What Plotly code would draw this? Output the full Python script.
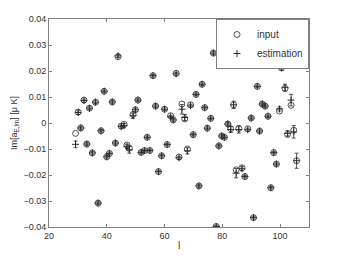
import plotly.graph_objects as go

l_vals = [29.2, 30.1, 31.0, 32.1, 33.1, 34.0, 35.0, 36.1, 37.0, 38.0, 39.1, 40.0, 40.9, 41.9,
          43.0, 43.9, 45.0, 46.0, 47.0, 47.8, 49.1, 49.9, 50.8, 51.9, 53.1, 54.0, 54.9, 56.0,
          56.9, 57.9, 59.0, 60.0, 60.9, 62.1, 63.0, 64.0, 65.0, 66.0, 67.0, 67.9, 69.0, 69.9,
          70.9, 71.9, 73.0, 73.9, 74.8, 76.0, 76.9, 77.9, 78.8, 79.8, 80.7, 81.9, 82.9, 83.9,
          84.8, 85.7, 86.8, 87.8, 88.8, 90.0, 90.8, 92.1, 92.9, 93.8, 94.8, 95.8, 96.8, 97.8,
          98.7, 99.8, 100.5, 101.7, 102.6, 103.8, 104.7, 105.7]

input_vals = [-0.0040, 0.0042, -0.0019, 0.0088, -0.0081, 0.0057, -0.0115, 0.0080, -0.0308, -0.0030,
              0.0122, -0.0130, -0.0117, 0.0081, -0.0077, 0.0255, -0.0012, -0.0005, -0.0085, -0.0097,
              0.0033, 0.0051, 0.0088, -0.0113, -0.0106, -0.0055, -0.0106, 0.0182, 0.0065, -0.0187,
              -0.0126, 0.0053, -0.0083, 0.0028, 0.0012, 0.0191, -0.0131, 0.0073, 0.0016, -0.0100,
              0.0070, -0.0045, 0.0110, -0.0242, 0.0149, 0.0059, -0.0020, 0.0018, 0.0269, -0.0398,
              -0.0088, -0.0050, -0.0055, -0.0004, -0.0022, 0.0070, -0.0180, -0.0021, -0.0172, -0.0206,
              -0.0022, 0.0019, -0.0364, 0.0141, -0.0031, 0.0073, 0.0065, 0.0026, -0.0249, -0.0114,
              -0.0158, 0.0046, 0.0212, 0.0133, -0.0044, 0.0068, -0.0028, -0.0145]

estimation_vals = [-0.0082, 0.0040, -0.0019, 0.0086, -0.0081, 0.0057, -0.0115, 0.0080, -0.0308, -0.0030,
                   0.0122, -0.0130, -0.0117, 0.0081, -0.0077, 0.0258, -0.0014, -0.0010, -0.0090, -0.0103,
                   0.0028, 0.0051, 0.0088, -0.0113, -0.0106, -0.0055, -0.0106, 0.0182, 0.0065, -0.0187,
                   -0.0126, 0.0053, -0.0083, 0.0024, 0.0012, 0.0189, -0.0134, 0.0053, 0.0021, -0.0107,
                   0.0066, -0.0045, 0.0110, -0.0242, 0.0149, 0.0059, -0.0020, 0.0018, 0.0269, -0.0398,
                   -0.0088, -0.0050, -0.0055, -0.0004, -0.0025, 0.0070, -0.0193, -0.0025, -0.0176, -0.0206,
                   -0.0026, 0.0019, -0.0364, 0.0141, -0.0031, 0.0073, 0.0065, 0.0026, -0.0249, -0.0114,
                   -0.0158, 0.0054, 0.0212, 0.0136, -0.0040, 0.0088, -0.0034, -0.0145]

error_vals = [0.0013, 0.0007, 0.0005, 0.0006, 0.0005, 0.0005, 0.0005, 0.0005, 0.0005, 0.0005,
              0.0005, 0.0005, 0.0005, 0.0005, 0.0005, 0.0006, 0.0006, 0.0008, 0.0008, 0.0013,
              0.0010, 0.0006, 0.0005, 0.0005, 0.0005, 0.0005, 0.0005, 0.0005, 0.0005, 0.0005,
              0.0005, 0.0005, 0.0005, 0.0005, 0.0005, 0.0006, 0.0006, 0.0018, 0.0012, 0.0012,
              0.0006, 0.0005, 0.0005, 0.0005, 0.0005, 0.0005, 0.0005, 0.0005, 0.0005, 0.0005,
              0.0005, 0.0005, 0.0005, 0.0006, 0.0011, 0.0014, 0.0018, 0.0014, 0.0008, 0.0005,
              0.0006, 0.0005, 0.0005, 0.0005, 0.0005, 0.0005, 0.0005, 0.0005, 0.0005, 0.0005,
              0.0005, 0.0008, 0.0008, 0.0013, 0.0010, 0.0022, 0.0024, 0.0029]

x_ticks = [20, 40, 60, 80, 100]
y_ticks = [-0.04, -0.03, -0.02, -0.01, 0, 0.01, 0.02, 0.03, 0.04]

ink = "#2a2a2a"
axis_col = "#808080"
text_col = "#333333"

fig = go.Figure()
fig.add_trace(go.Scatter(
    x=l_vals, y=input_vals, mode="markers", name="input",
    marker=dict(symbol="circle-open", size=6, color=ink, line=dict(width=0.8, color=ink)),
))
fig.add_trace(go.Scatter(
    x=l_vals, y=estimation_vals, mode="markers", name="estimation",
    marker=dict(symbol="cross-thin-open", size=5, color=ink, line=dict(width=1, color=ink)),
    error_y=dict(type="data", array=error_vals, visible=True, color=ink, thickness=0.8, width=2),
))

fig.update_layout(
    width=341, height=256,
    margin=dict(l=49, r=32, t=19, b=29),
    paper_bgcolor="white", plot_bgcolor="white",
    font=dict(family="Liberation Sans, Arial, sans-serif", size=9, color=text_col),
    showlegend=True,
    legend=dict(x=1, y=1, xanchor="right", yanchor="top",
                bordercolor=axis_col, borderwidth=1, bgcolor="white",
                font=dict(size=10, color=text_col), itemwidth=30, tracegroupgap=0),
)
fig.update_xaxes(
    range=[20, 110], tickvals=x_ticks, ticktext=[str(v) for v in x_ticks],
    showgrid=False, zeroline=False, showline=True, mirror="ticks", automargin=False,
    linecolor=axis_col, linewidth=1, ticks="inside", ticklen=3, tickcolor=axis_col,
    tickfont=dict(color=text_col),
    title=dict(text="l", standoff=2, font=dict(size=10, color=text_col)),
)
fig.update_yaxes(
    range=[-0.04, 0.04], tickvals=y_ticks,
    showgrid=False, zeroline=False, showline=True, mirror="ticks", automargin=False,
    linecolor=axis_col, linewidth=1, ticks="inside", ticklen=3, tickcolor=axis_col,
    tickfont=dict(color=text_col),
    title=dict(text="Im[a<sub>E,lm</sub>] [μ K]", standoff=4, font=dict(size=9, color=text_col)),
)

fig.write_html("out.html", config={"displayModeBar": False},
               post_script="document.body.style.margin='0';")
